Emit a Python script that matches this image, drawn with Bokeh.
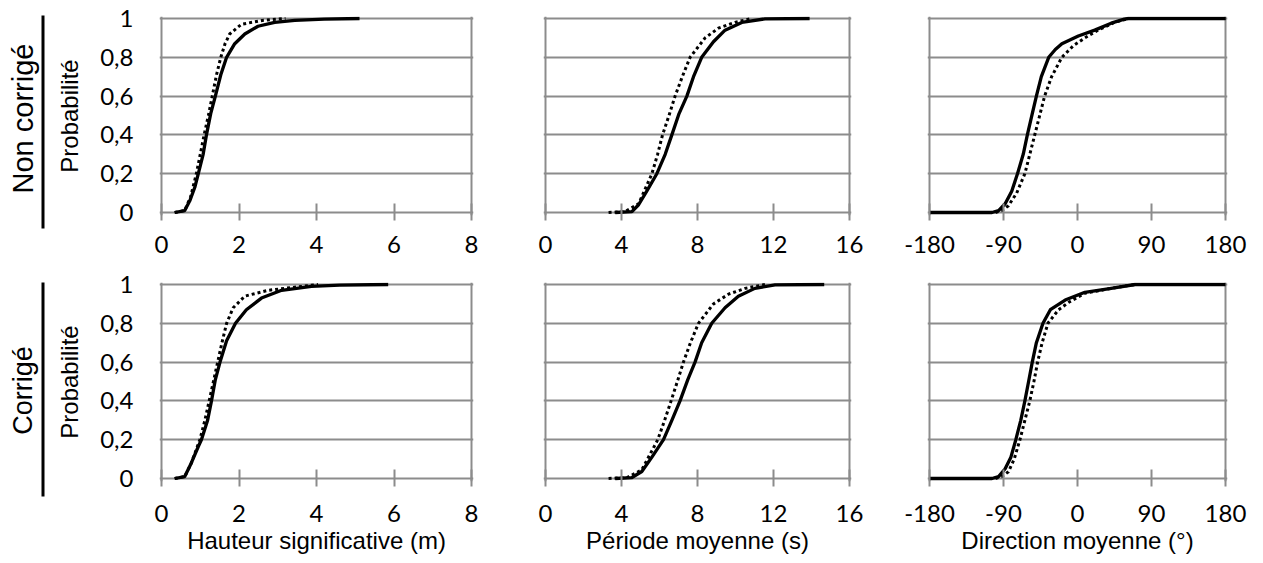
from bokeh.plotting import figure
from bokeh.layouts import row, column
from bokeh.models import Range1d, FixedTicker, Label, CustomJSTickFormatter
from bokeh.embed import file_html
from bokeh.resources import INLINE

# ---------------- data ----------------
y_ticks = [0, 0.2, 0.4, 0.6, 0.8, 1]
hs_ticks = [0, 2, 4, 6, 8]
tm_ticks = [0, 4, 8, 12, 16]
dir_ticks = [-180, -90, 0, 90, 180]

x_titles = ["Hauteur significative (m)", "Période moyenne (s)", "Direction moyenne (°)"]
row_titles = ["Non corrigé", "Corrigé"]
y_title = "Probabilité"

# Row 1 : non corrigé
hs_nc_solid_x = [0.34, 0.60, 0.73, 0.86, 0.95, 1.075, 1.16, 1.27, 1.39, 1.53, 1.68, 1.89, 2.15, 2.49, 2.92, 3.44, 4.2, 5.11]
hs_nc_solid_y = [0, 0.01, 0.06, 0.13, 0.2, 0.30, 0.40, 0.51, 0.60, 0.71, 0.80, 0.87, 0.92, 0.96, 0.98, 0.99, 0.997, 1.0]
hs_nc_dot_x = [0.34, 0.60, 0.75, 0.90, 1.00, 1.10, 1.21, 1.31, 1.42, 1.53, 1.64, 1.76, 2.06, 2.6, 3.2]
hs_nc_dot_y = [0, 0.01, 0.08, 0.2, 0.30, 0.40, 0.50, 0.60, 0.71, 0.80, 0.87, 0.92, 0.97, 0.99, 1.0]

tm_nc_solid_x = [3.67, 4.55, 4.90, 5.33, 5.86, 6.30, 6.65, 7.03, 7.44, 7.79, 8.22, 8.84, 9.45, 10.33, 11.55, 13.9]
tm_nc_solid_y = [0, 0.005, 0.04, 0.11, 0.2, 0.30, 0.40, 0.51, 0.60, 0.70, 0.80, 0.88, 0.94, 0.98, 0.998, 1.0]
tm_nc_dot_x = [3.32, 4.2, 4.90, 5.60, 5.90, 6.16, 6.50, 6.82, 7.20, 7.61, 8.40, 9.10, 9.97, 10.85]
tm_nc_dot_y = [0, 0.005, 0.045, 0.2, 0.3, 0.4, 0.5, 0.6, 0.7, 0.8, 0.9, 0.95, 0.98, 1.0]

dir_nc_solid_x = [-180, -104, -96, -88, -80, -73, -66, -61, -55, -50, -44, -35, -27, -19, 1, 21, 41, 57, 62, 180]
dir_nc_solid_y = [0, 0, 0.01, 0.045, 0.11, 0.2, 0.30, 0.40, 0.51, 0.60, 0.70, 0.80, 0.84, 0.87, 0.91, 0.94, 0.976, 0.997, 1.0, 1.0]
dir_nc_dot_x = [-180, -100, -92, -84, -74, -64, -58, -52, -46, -40, -31.5, -19, -5, 9, 25, 45, 62, 180]
dir_nc_dot_y = [0, 0, 0.01, 0.035, 0.10, 0.2, 0.3, 0.4, 0.5, 0.6, 0.7, 0.8, 0.86, 0.9, 0.94, 0.98, 1.0, 1.0]

# Row 2 : corrigé
hs_c_solid_x = [0.34, 0.60, 0.77, 0.95, 1.03, 1.19, 1.29, 1.39, 1.51, 1.68, 1.91, 2.19, 2.58, 3.10, 3.87, 4.6, 5.85]
hs_c_solid_y = [0, 0.01, 0.08, 0.165, 0.2, 0.30, 0.40, 0.51, 0.60, 0.71, 0.80, 0.87, 0.93, 0.97, 0.99, 0.997, 1.0]
hs_c_dot_x = [0.34, 0.60, 0.77, 0.99, 1.12, 1.23, 1.34, 1.45, 1.56, 1.68, 1.85, 2.15, 2.75, 3.61, 4.04]
hs_c_dot_y = [0, 0.01, 0.08, 0.2, 0.3, 0.4, 0.5, 0.6, 0.7, 0.8, 0.88, 0.94, 0.97, 0.99, 1.0]

tm_c_solid_x = [3.67, 4.55, 5.07, 5.60, 6.21, 6.65, 7.08, 7.49, 7.87, 8.22, 8.75, 9.45, 10.15, 11.02, 12.08, 14.67]
tm_c_solid_y = [0, 0.005, 0.036, 0.11, 0.2, 0.30, 0.40, 0.51, 0.60, 0.70, 0.80, 0.88, 0.94, 0.98, 0.998, 1.0]
tm_c_dot_x = [3.32, 4.3, 5.07, 5.91, 6.27, 6.61, 6.94, 7.26, 7.63, 8.05, 8.84, 9.63, 10.5, 11.55]
tm_c_dot_y = [0, 0.005, 0.045, 0.2, 0.3, 0.4, 0.5, 0.6, 0.7, 0.8, 0.9, 0.95, 0.98, 1.0]

dir_c_solid_x = [-180, -104, -96, -88, -81, -75, -69, -64, -59, -55, -50, -42, -33, -15, 9, 41, 70, 180]
dir_c_solid_y = [0, 0, 0.01, 0.05, 0.11, 0.2, 0.30, 0.40, 0.51, 0.60, 0.70, 0.80, 0.87, 0.92, 0.96, 0.98, 1.0, 1.0]
dir_c_dot_x = [-180, -100, -92, -84, -77, -70, -64, -58, -53, -48.5, -43, -36, -23, -10, 9, 41, 70, 180]
dir_c_dot_y = [0, 0, 0.01, 0.035, 0.1, 0.2, 0.3, 0.4, 0.5, 0.6, 0.7, 0.8, 0.87, 0.91, 0.955, 0.98, 1.0, 1.0]

# ---------------- styling ----------------
GRID = "#8c8c8c"
TICK_FONT = "Lato"
TITLE_FONT = "Liberation Sans"
TICK_SIZE = "24px"
TITLE_SIZE = "24px"
FRAME_H = 199
PAD_BOTTOM_PX = 3
PAD_TOP_PX = 2
SPAN_PX = FRAME_H - PAD_BOTTOM_PX - PAD_TOP_PX


def make_panel(ticks, sx, sy, dx, dy, frame_w, left, right, top, bottom,
               show_y, xtitle, tick_standoff):
    span = ticks[-1] - ticks[0]
    pad = 2.0 * span / (frame_w - 4)
    p = figure(frame_width=frame_w, frame_height=FRAME_H,
               x_range=Range1d(ticks[0] - pad, ticks[-1] + pad),
               y_range=Range1d(-PAD_BOTTOM_PX / SPAN_PX, 1 + PAD_TOP_PX / SPAN_PX),
               output_backend="svg", toolbar_location=None,
               min_border_left=left, min_border_right=right,
               min_border_top=top, min_border_bottom=bottom)
    p.outline_line_color = None
    p.background_fill_color = "white"
    p.border_fill_color = "white"

    p.xgrid.ticker = FixedTicker(ticks=[ticks[0], ticks[-1]])
    p.ygrid.ticker = FixedTicker(ticks=y_ticks)
    for g in (p.xgrid[0], p.ygrid[0]):
        g.grid_line_color = GRID
        g.grid_line_width = 2

    xa = p.xaxis[0]
    xa.ticker = FixedTicker(ticks=ticks)
    xa.formatter = CustomJSTickFormatter(code="return tick.toString();")
    xa.axis_line_color = None
    xa.major_tick_in = 12
    xa.major_tick_out = 5
    xa.major_tick_line_color = GRID
    xa.major_tick_line_width = 2
    xa.minor_tick_line_color = None
    xa.major_label_text_font = TICK_FONT
    xa.major_label_text_font_size = TICK_SIZE
    xa.major_label_text_color = "black"
    xa.major_label_standoff = tick_standoff
    if xtitle:
        xa.axis_label = xtitle
        xa.axis_label_text_font = TITLE_FONT
        xa.axis_label_text_font_size = TITLE_SIZE
        xa.axis_label_text_font_style = "normal"
        xa.axis_label_text_color = "black"
        xa.axis_label_standoff = 2

    ya = p.yaxis[0]
    if show_y:
        ya.ticker = FixedTicker(ticks=y_ticks)
        ya.formatter = CustomJSTickFormatter(
            code="var s = tick.toFixed(1).replace('.', ','); return s.replace(',0', '');")
        ya.axis_line_color = None
        ya.major_tick_in = 0
        ya.major_tick_out = 0
        ya.minor_tick_line_color = None
        ya.major_label_text_font = TICK_FONT
        ya.major_label_text_font_size = TICK_SIZE
        ya.major_label_text_color = "black"
        ya.major_label_standoff = 26
        ya.axis_label = y_title
        ya.axis_label_text_font = TITLE_FONT
        ya.axis_label_text_font_size = TITLE_SIZE
        ya.axis_label_text_font_style = "normal"
        ya.axis_label_text_color = "black"
        ya.axis_label_standoff = 14
    else:
        ya.visible = False

    p.line(sx, sy, line_color="black", line_width=3.3, line_join="round")
    p.line(dx, dy, line_color="black", line_width=3, line_dash="3 3")
    return p


# row 1
p1 = make_panel(hs_ticks, hs_nc_solid_x, hs_nc_solid_y, hs_nc_dot_x, hs_nc_dot_y,
                314, 105, 28, 16, 43, True, None, 15)
p2 = make_panel(tm_ticks, tm_nc_solid_x, tm_nc_solid_y, tm_nc_dot_x, tm_nc_dot_y,
                308, 42, 28, 16, 43, False, None, 15)
p3 = make_panel(dir_ticks, dir_nc_solid_x, dir_nc_solid_y, dir_nc_dot_x, dir_nc_dot_y,
                300, 48, 22, 16, 43, False, None, 15)
# row 2
p4 = make_panel(hs_ticks, hs_c_solid_x, hs_c_solid_y, hs_c_dot_x, hs_c_dot_y,
                314, 105, 28, 24, 80, True, x_titles[0], 18)
p5 = make_panel(tm_ticks, tm_c_solid_x, tm_c_solid_y, tm_c_dot_x, tm_c_dot_y,
                308, 42, 28, 24, 80, False, x_titles[1], 18)
p6 = make_panel(dir_ticks, dir_c_solid_x, dir_c_solid_y, dir_c_dot_x, dir_c_dot_y,
                300, 48, 22, 24, 80, False, x_titles[2], 18)

# left strip with the row titles
H_TOTAL = 561
lab = figure(width=53, height=H_TOTAL, x_range=Range1d(0, 53), y_range=Range1d(H_TOTAL, 0),
             output_backend="svg", toolbar_location=None, min_border=0,
             min_border_left=0, min_border_right=0, min_border_top=0, min_border_bottom=0)
lab.axis.visible = False
lab.grid.visible = False
lab.outline_line_color = None
lab.background_fill_color = "white"
lab.border_fill_color = "white"
for txt, yc, fs in zip(row_titles, [118, 390], ["29px", "27px"]):
    lab.add_layout(Label(x=22, y=yc, text=txt, angle=90, angle_units="deg",
                         text_align="center", text_baseline="middle",
                         text_font=TITLE_FONT, text_font_size=fs, text_color="black"))
lab.segment(x0=[42.5, 42.5], y0=[15, 282], x1=[42.5, 42.5], y1=[228, 496],
            line_color="black", line_width=3)

layout = row(lab, column(row(p1, p2, p3), row(p4, p5, p6)))

with open("out.html", "w") as f:
    f.write(file_html(layout, INLINE))
